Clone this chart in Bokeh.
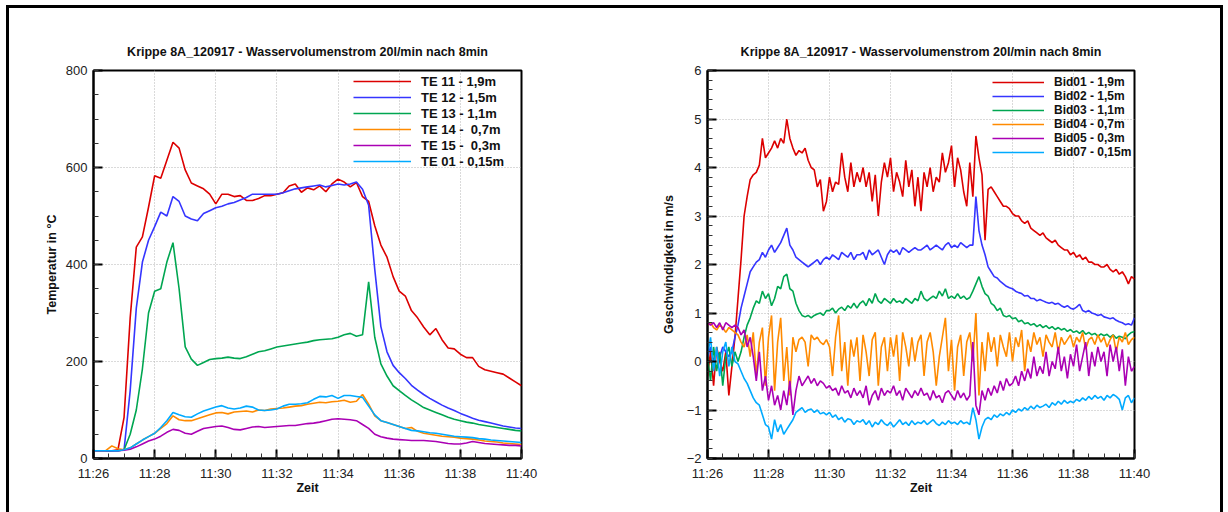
from datetime import datetime, timezone
from bokeh.plotting import figure
from bokeh.layouts import row
from bokeh.models import FixedTicker, Legend, LegendItem, DatetimeTickFormatter
from bokeh.embed import file_html
from bokeh.resources import INLINE

# ---------------- data ----------------
TITLE = "Krippe 8A_120917 - Wasservolumenstrom 20l/min nach 8min"
DATE = (2012, 9, 17)
x_tick_labels = ["11:26", "11:28", "11:30", "11:32", "11:34", "11:36", "11:38", "11:40"]
x_label = "Zeit"

# left panel: temperatures, sampled every 12 s from 11:26
temp_step_s = 12
temp_names = ["TE 11 - 1,9m", "TE 12 - 1,5m", "TE 13 - 1,1m", "TE 14 -  0,7m", "TE 15 -  0,3m", "TE 01 - 0,15m"]
te11 = [16, 16, 16, 16, 18, 85, 290, 436, 457, 518, 583, 578, 615, 652, 640,
        595, 568, 562, 556, 545, 525, 545, 545, 540, 542, 532, 532, 536, 542, 542,
        545, 548, 562, 566, 549, 558, 554, 562, 550, 566, 576, 570, 560, 569, 540,
        530, 480, 440, 415, 375, 345, 335, 305, 290, 271, 255, 268, 245, 228, 226,
        215, 208, 208, 190, 183, 180, 177, 174, 166, 158, 150]
te12 = [16, 16, 16, 16, 16, 18, 140, 310, 405, 450, 478, 508, 500, 540, 530,
        500, 494, 490, 505, 511, 517, 520, 525, 528, 533, 538, 545, 545, 545, 545,
        545, 548, 552, 556, 558, 560, 562, 564, 560, 563, 566, 564, 566, 570, 555,
        522, 390, 272, 220, 192, 177, 165, 151, 141, 132, 124, 117, 110, 104, 99,
        93, 88, 83, 79, 76, 73, 70, 67, 65, 63, 62]
te13 = [16, 16, 16, 16, 16, 18, 50, 100, 185, 300, 345, 350, 405, 445, 350,
        230, 205, 192, 198, 204, 206, 207, 209, 207, 206, 210, 215, 220, 222, 226,
        230, 232, 234, 236, 238, 240, 243, 245, 246, 247, 250, 255, 258, 252, 255,
        364, 250, 195, 170, 150, 140, 130, 121, 113, 105, 100, 95, 90, 85, 81,
        78, 75, 73, 70, 68, 66, 64, 62, 60, 58, 57]
te14 = [16, 16, 16, 26, 20, 18, 22, 30, 38, 45, 52, 62, 72, 88, 80,
        78, 78, 82, 86, 90, 94, 95, 92, 96, 97, 98, 96, 100, 99, 102,
        103, 104, 106, 108, 109, 112, 114, 116, 115, 117, 118, 120, 116, 118, 132,
        112, 88, 78, 74, 70, 66, 62, 64, 56, 52, 50, 48, 46, 45, 44,
        42, 41, 40, 38, 36, 35, 34, 32, 31, 30, 29]
te15 = [16, 16, 16, 16, 16, 17, 19, 24, 30, 36, 40, 46, 54, 60, 58,
        52, 50, 56, 62, 64, 66, 67, 64, 60, 59, 62, 65, 66, 64, 65,
        66, 67, 68, 68, 70, 72, 73, 75, 78, 81, 82, 81, 80, 78, 70,
        62, 50, 45, 42, 40, 39, 38, 37, 37, 37, 36, 35, 33, 31, 30,
        30, 32, 35, 33, 31, 30, 29, 28, 27, 27, 26]
te01 = [16, 16, 16, 16, 16, 18, 22, 30, 38, 45, 52, 64, 78, 95, 90,
        86, 85, 92, 98, 102, 106, 109, 104, 102, 104, 108, 106, 100, 99, 100,
        102, 108, 112, 112, 113, 115, 122, 128, 127, 130, 124, 130, 130, 128, 126,
        108, 90, 78, 74, 70, 66, 62, 58, 57, 55, 53, 52, 50, 48, 46,
        45, 44, 43, 41, 40, 38, 37, 36, 35, 34, 33]
temp_series = [te11, te12, te13, te14, te15, te01]
temp_y_ticks = [0, 200, 400, 600, 800]
temp_y_label = "Temperatur in °C"

# right panel: velocities, sampled every 6 s from 11:26
vel_step_s = 6
vel_names = ["Bid01 - 1,9m", "Bid02 - 1,5m", "Bid03 - 1,1m", "Bid04 - 0,7m", "Bid05 - 0,3m", "Bid07 - 0,15m"]
bid01 = [-0.3, 0.2, -0.5, 0.3, 0.0, -0.2, 0.2, -0.7, -0.1, 0.5,
         1.3, 2.1, 3.0, 3.4, 3.75, 3.85, 3.9, 4.05, 4.6, 4.2,
         4.3, 4.4, 4.55, 4.4, 4.6, 4.5, 5.0, 4.6, 4.4, 4.25,
         4.35, 4.3, 4.4, 4.15, 4.0, 3.95, 3.6, 3.75, 3.1, 3.3,
         3.8, 3.5, 3.7, 3.65, 4.3, 3.8, 3.5, 4.1, 3.6, 3.9,
         3.7, 4.0, 3.6, 3.9, 3.3, 3.85, 3.0, 3.7, 4.1, 3.8,
         4.2, 3.5, 3.9, 3.7, 3.4, 4.15, 3.6, 3.95, 3.2, 3.8,
         3.1, 3.9, 3.6, 4.0, 3.5, 3.8, 3.7, 4.3, 3.9, 4.1,
         4.45, 3.6, 4.2, 3.95, 3.5, 3.2, 4.1, 3.4, 4.65, 4.2,
         3.85, 2.5, 3.55, 3.6, 3.5, 3.4, 3.3, 3.2, 3.2, 3.15,
         3.05, 3.0, 3.0, 2.9, 2.85, 2.9, 2.75, 2.7, 2.65, 2.6,
         2.65, 2.55, 2.5, 2.45, 2.5, 2.4, 2.35, 2.3, 2.3, 2.2,
         2.25, 2.15, 2.2, 2.1, 2.15, 2.05, 2.05, 2.0, 2.0, 1.95,
         1.95, 2.0, 1.9, 1.85, 1.9, 1.8, 1.85, 1.75, 1.6, 1.75,
         1.7]
bid02 = [0.1, 0.3, 0.0, 0.2, 0.1, 0.3, 0.2, 0.1, 0.2, 0.5,
         0.75, 1.1, 1.35, 1.6, 1.85, 1.95, 2.05, 2.1, 2.25, 2.15,
         2.3, 2.4, 2.25, 2.35, 2.45, 2.6, 2.75, 2.4, 2.3, 2.15,
         2.1, 2.05, 2.0, 1.95, 2.0, 2.05, 2.1, 2.0, 2.1, 2.15,
         2.1, 2.2, 2.15, 2.1, 2.25, 2.2, 2.15, 2.25, 2.1, 2.2,
         2.2, 2.25, 2.1, 2.3, 2.2, 2.25, 2.3, 2.15, 2.0, 2.2,
         2.3, 2.25, 2.3, 2.2, 2.35, 2.3, 2.25, 2.3, 2.35, 2.3,
         2.3, 2.35, 2.4, 2.3, 2.35, 2.4, 2.35, 2.3, 2.4, 2.45,
         2.35, 2.4, 2.35, 2.45, 2.4, 2.35, 2.4, 2.4, 3.4, 2.7,
         2.4, 2.2, 1.95, 1.85, 1.75, 1.72, 1.65, 1.6, 1.55, 1.52,
         1.5, 1.45, 1.42, 1.4, 1.35, 1.36, 1.3, 1.3, 1.25, 1.28,
         1.25, 1.22, 1.2, 1.22, 1.18, 1.2, 1.15, 1.12, 1.15, 1.1,
         1.08, 1.12, 1.18, 1.05, 1.02, 1.05, 1.0, 0.98, 0.95, 0.97,
         0.92, 0.9, 0.88, 0.9, 0.85, 0.82, 0.8, 0.76, 0.78, 0.75,
         0.9]
bid03 = [0.1, -0.4, 0.3, -0.2, 0.2, -0.5, 0.1, 0.3, -0.1, 0.2,
         0.0, 0.2, 0.5, 0.75, 0.9, 1.1, 1.25, 1.2, 1.45, 1.3,
         1.4, 1.15, 1.3, 1.55, 1.5, 1.75, 1.8, 1.5, 1.45, 1.2,
         1.05, 0.95, 0.92, 0.95, 0.9, 0.95, 0.98, 1.0, 0.95, 1.05,
         1.05, 1.1, 1.0, 1.08, 1.12, 1.05, 1.15, 1.1, 1.2, 1.1,
         1.2, 1.25, 1.15, 1.3, 1.2, 1.4, 1.25, 1.2, 1.3, 1.25,
         1.2, 1.3, 1.22, 1.25, 1.2, 1.3, 1.25, 1.2, 1.3, 1.25,
         1.45, 1.3, 1.25, 1.3, 1.35, 1.3, 1.45, 1.35, 1.5, 1.3,
         1.35, 1.3, 1.4, 1.3, 1.35, 1.28, 1.32, 1.45, 1.6, 1.75,
         1.55, 1.4, 1.35, 1.2, 1.15, 1.05, 1.1, 0.95, 0.92, 0.95,
         0.88, 0.9, 0.82, 0.85, 0.78, 0.8, 0.75, 0.78, 0.72, 0.76,
         0.7, 0.74, 0.68, 0.72, 0.66, 0.7, 0.65, 0.68, 0.62, 0.66,
         0.6, 0.63, 0.58, 0.64, 0.56, 0.6, 0.55, 0.58, 0.52, 0.57,
         0.53, 0.56, 0.5, 0.55, 0.48, 0.52, 0.5, 0.47, 0.55, 0.6,
         0.62]
bid04 = [0.75, 0.8, 0.7, 0.65, 0.75, 0.7, 0.6, 0.7, 0.65, 0.6,
         0.55, 0.4, 0.3, 0.55, 0.1, 0.6, -0.3, 0.4, 0.7, -0.5,
         0.5, 0.95, -0.6, 0.4, 0.9, -0.4, 0.3, -0.7, 0.5, 0.2,
         0.45, 0.5, 0.4, -0.1, 0.55, 0.45, 0.5, 0.4, 0.35, 0.45,
         0.3, -0.3, 0.5, 0.95, -0.2, 0.4, -0.5, 0.45, 0.1, 0.5,
         -0.4, 0.55, 0.2, -0.3, 0.45, 0.6, -0.5, 0.3, 0.5, -0.2,
         0.5, 0.1, 0.55, -0.4, 0.6, 0.3, -0.1, 0.5, 0.0, 0.4,
         0.55, -0.3, 0.4, 0.6, 0.2, -0.5, 0.1, 0.5, 0.9, -0.2,
         0.45, -0.6, 0.3, 0.55, -0.3, 0.4, 0.6, 0.0, 1.0, -0.7,
         0.4, -0.2, 0.6, 0.2, 0.5, -0.1, 0.55, 0.3, 0.1, 0.6,
         0.0, 0.5, 0.3, 0.65, -0.2, 0.45, 0.2, 0.6, 0.35, 0.5,
         0.1, 0.55, 0.4, 0.3, 0.6, 0.2, 0.5, 0.35, 0.45, 0.55,
         0.3, 0.5, 0.4, 0.6, 0.25, 0.45, 0.5, 0.35, 0.55, 0.4,
         0.5, 0.3, 0.45, 0.55, 0.2, 0.5, 0.4, 0.6, 0.35, 0.45,
         0.5]
bid05 = [0.8, 0.75, 0.8, 0.7, 0.8, 0.65, 0.8, 0.75, 0.7, 0.75,
         0.7, 0.55, 0.65, 0.3, 0.5, 0.1, -0.4, 0.2, -0.6, -0.3,
         -0.8, -0.5, -0.9, -0.7, -1.0, -0.6, -0.9, -0.4, -1.1, -0.6,
         -0.3, -0.5, -0.4, -0.3, -0.45, -0.35, -0.5, -0.4, -0.45, -0.55,
         -0.5, -0.6, -0.55, -0.7, -0.5, -0.65, -0.6, -0.75, -0.55, -0.7,
         -0.6, -0.75, -0.5, -0.9, -0.7, -0.6, -0.8, -0.55, -0.7, -0.6,
         -0.65, -0.5, -0.7, -0.6, -0.8, -0.55, -0.65, -0.75, -0.6, -0.7,
         -0.55, -0.7, -0.65, -0.8, -0.6, -0.75, -0.7, -0.85, -0.65, -0.6,
         -0.7, -0.8, -0.6, -0.75, -0.65, -0.8, -0.7, 0.4, -0.9, -1.1,
         -0.6, -0.8, -0.55, -0.7, -0.5, -0.65, -0.4, -0.6, -0.35, -0.5,
         -0.45, -0.3, -0.5, -0.2, -0.4, -0.15, -0.35, 0.1, -0.3, -0.1,
         -0.25, 0.2, -0.3, 0.0, -0.15, 0.3, -0.2, 0.1, -0.35, 0.15,
         -0.1, 0.35, -0.2, 0.1, 0.4, -0.3, 0.2, -0.1, 0.3, 0.0,
         0.2, -0.3, 0.35, 0.0, 0.3, -0.2, 0.25, -0.5, 0.1, -0.2,
         -0.1]
bid07 = [0.1, 0.5, -0.2, 0.3, -0.3, 0.2, 0.4, -0.1, 0.3, 0.0,
         -0.05, -0.2, -0.35, -0.45, -0.6, -0.75, -0.85, -0.9, -1.1, -1.3,
         -1.35, -1.6, -1.2, -1.45, -1.3, -1.5, -1.4, -1.3, -1.2, -1.05,
         -1.0, -0.95, -1.05, -1.0, -0.98, -1.05, -1.0, -1.08, -1.05, -1.1,
         -1.05, -1.15, -1.1, -1.2, -1.15, -1.25, -1.18, -1.2, -1.3, -1.22,
         -1.25, -1.2, -1.3, -1.22, -1.35, -1.25, -1.3, -1.2, -1.28, -1.32,
         -1.25, -1.35, -1.28, -1.2, -1.3, -1.25, -1.32, -1.22, -1.3, -1.25,
         -1.28, -1.22, -1.3, -1.25, -1.2, -1.28, -1.32, -1.25, -1.3, -1.22,
         -1.28, -1.25, -1.3, -1.22, -1.28, -1.25, -1.3, -0.95, -1.2, -1.6,
         -1.35, -1.2, -1.15, -1.2, -1.1, -1.15, -1.08, -1.12, -1.05, -1.1,
         -1.0, -1.05, -0.98, -1.02, -0.95, -1.0, -0.92, -0.98, -0.9, -0.95,
         -0.92, -0.88, -0.95, -0.85, -0.9, -0.82, -0.88, -0.8, -0.86, -0.82,
         -0.85, -0.78, -0.82, -0.75, -0.8, -0.72, -0.78, -0.7, -0.76, -0.72,
         -0.8, -0.7, -0.75, -0.68, -0.72, -0.78, -1.0, -0.75, -0.7, -0.85,
         -0.75]
vel_series = [bid01, bid02, bid03, bid04, bid05, bid07]
vel_y_ticks = [-2, -1, 0, 1, 2, 3, 4, 5, 6]
vel_y_label = "Geschwindigkeit in m/s"

colors = ["#dc0000", "#3535ff", "#00a651", "#ff8a00", "#aa00b4", "#00aaff"]

# ---------------- helpers ----------------
FONT = "Liberation Sans"


def hm_to_ms(label):
    h, m = (int(v) for v in label.split(":"))
    return datetime(*DATE, h, m, tzinfo=timezone.utc).timestamp() * 1000.0


X0 = hm_to_ms(x_tick_labels[0])
X1 = hm_to_ms(x_tick_labels[-1])
x_major = [hm_to_ms(l) for l in x_tick_labels]
x_minor = [X0 + k * 30000.0 for k in range(int((X1 - X0) / 30000) + 1)]


def make_panel(series, names, step_s, y_ticks, y_minor_step, y_label, width,
               mb_left, mb_right, legend_xy, legend_font, glyph_w, row_h, axis_label_standoff):
    p = figure(width=width, height=504, x_axis_type="datetime",
               x_range=(X0, X1), y_range=(y_ticks[0], y_ticks[-1]),
               output_backend="svg", toolbar_location=None,
               min_border_left=mb_left, min_border_right=mb_right,
               min_border_top=62, min_border_bottom=54)
    p.background_fill_color = "white"
    p.border_fill_color = "white"
    p.outline_line_color = "black"
    p.outline_line_width = 2

    p.title.text = TITLE
    p.title.align = "center"
    p.title.text_font = FONT
    p.title.text_font_size = "12.5px"
    p.title.text_font_style = "bold"
    p.title.text_color = "#111111"
    p.title.standoff = 23

    n_minor = int(round((y_ticks[-1] - y_ticks[0]) / y_minor_step))
    y_minor = [y_ticks[0] + k * y_minor_step for k in range(n_minor + 1)]
    p.xaxis.ticker = FixedTicker(ticks=x_major, minor_ticks=x_minor)
    p.yaxis.ticker = FixedTicker(ticks=y_ticks, minor_ticks=y_minor)
    p.xaxis.formatter = DatetimeTickFormatter(
        seconds="%H:%M", minsec="%H:%M", minutes="%H:%M",
        hourmin="%H:%M", hours="%H:%M")

    for ax in (p.xaxis[0], p.yaxis[0]):
        ax.axis_line_color = "black"
        ax.axis_line_width = 2
        ax.major_tick_in = 9
        ax.major_tick_out = 0
        ax.minor_tick_in = 5
        ax.minor_tick_out = 0
        ax.major_tick_line_width = 2
        ax.major_tick_line_color = "black"
        ax.minor_tick_line_color = "#333333"
        ax.major_label_text_font = FONT
        ax.major_label_text_font_size = "13px"
        ax.major_label_text_color = "#222222"
        ax.axis_label_text_font = FONT
        ax.axis_label_text_font_size = "12.5px"
        ax.axis_label_text_font_style = "bold"
        ax.axis_label_text_color = "#111111"
    p.xaxis.major_label_standoff = 7
    p.yaxis.major_label_standoff = 6
    p.xaxis.axis_label = x_label
    p.xaxis.axis_label_standoff = -3
    p.yaxis.axis_label = y_label
    p.yaxis.axis_label_standoff = axis_label_standoff

    for g in (p.xgrid[0], p.ygrid[0]):
        g.grid_line_color = "#b4b4b4"
        g.grid_line_dash = "1 2"
        g.grid_line_width = 1

    items = []
    for vals, name, col in zip(series, names, colors):
        xs = [X0 + i * step_s * 1000.0 for i in range(len(vals))]
        r = p.line(xs, vals, line_color=col, line_width=1.6)
        items.append(LegendItem(label=name, renderers=[r]))
    leg = Legend(items=items, location=legend_xy, border_line_color=None,
                 background_fill_alpha=0, margin=0, padding=4, spacing=0,
                 glyph_width=glyph_w, glyph_height=row_h, label_height=row_h,
                 label_standoff=10, label_text_font=FONT,
                 label_text_font_size=legend_font, label_text_font_style="bold",
                 label_text_color="#111111")
    p.add_layout(leg, "center")
    return p


p1 = make_panel(temp_series, temp_names, temp_step_s, temp_y_ticks, 50, temp_y_label,
                605, 84, 93, (260, 289), "13px", 58, 16, 4)
p2 = make_panel(vel_series, vel_names, vel_step_s, vel_y_ticks, 0.2, vel_y_label,
                606, 93, 86, (285, 299), "12px", 52, 14, 8)

layout = row(p1, p2, margin=(5, 0, 0, 6),
             styles={"border-top": "3px solid black", "border-left": "3px solid black",
                     "border-right": "3px solid black", "background": "white"})

open("out.html", "w").write(file_html(layout, INLINE, title="Krippe 8A"))
